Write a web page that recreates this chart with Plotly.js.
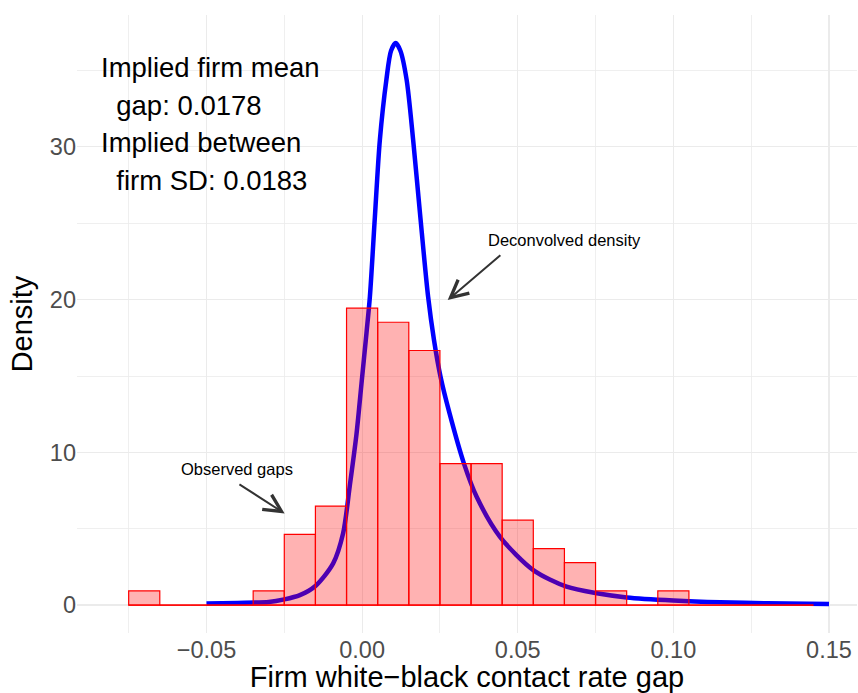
<!DOCTYPE html>
<html>
<head>
<meta charset="utf-8">
<script src="https://cdn.plot.ly/plotly-3.0.1.min.js"></script>
<style>
  html, body { margin: 0; padding: 0; background: #ffffff; }
  #chart { width: 858px; height: 693px; }
</style>
</head>
<body>
<div id="chart"></div>
<script>
// Histogram of observed gaps (density scale), bins of width 0.01
const binCenters = [-0.07, -0.06, -0.05, -0.04, -0.03, -0.02, -0.01, 0.00, 0.01, 0.02, 0.03,
                    0.04, 0.05, 0.06, 0.07, 0.08, 0.09, 0.10, 0.11, 0.12, 0.13, 0.14];
const density    = [0.93, 0, 0, 0, 0.93, 4.63, 6.48, 19.44, 18.52, 16.67, 9.26,
                    9.26, 5.56, 3.70, 2.78, 0.93, 0, 0.93, 0, 0, 0, 0];
const binWidth = 0.01;

// Deconvolved density curve
const curveX = [-0.05, -0.04, -0.03, -0.025, -0.02, -0.015, -0.0093, -0.0061, -0.004, -0.0018,
                -0.0002, 0.0014, 0.0025, 0.0041, 0.0057, 0.0078, 0.0093, 0.0108, 0.0123, 0.0143,
                0.0164, 0.0186, 0.0212, 0.0231, 0.0252, 0.0281, 0.0327, 0.0368, 0.0443, 0.055,
                0.0657, 0.0754, 0.085, 0.10, 0.115, 0.13, 0.15];
const curveY = [0.11, 0.14, 0.2, 0.37, 0.65, 1.25, 2.73, 4.7, 7.75, 11.2,
                14.5, 17.8, 20.2, 25.4, 30.45, 34.4, 36.3, 36.8, 36.3, 34.4,
                30.45, 25.65, 20.2, 17.35, 14.95, 12.55, 9.28, 7.09, 4.47, 2.29,
                1.2, 0.77, 0.5, 0.3, 0.18, 0.12, 0.07];

// Axis ticks
const xTickVals = [-0.05, 0.00, 0.05, 0.10, 0.15];
const xTickText = ['\u22120.05', '0.00', '0.05', '0.10', '0.15'];
const xMinorVals = [-0.075, -0.025, 0.025, 0.075, 0.125];
const yTickVals = [0, 10, 20, 30];
const yTickText = ['0', '10', '20', '30'];
const yMinorVals = [5, 15, 25, 35];

// Text
const statLines = ['Implied firm mean', '\u00a0\u00a0gap: 0.0178', 'Implied between', '\u00a0\u00a0firm SD: 0.0183'];
const xTitle = 'Firm white\u2212black contact rate gap';
const yTitle = 'Density';

const FONT = 'Liberation Sans, Arial, Helvetica, sans-serif';
const xRange = [-0.0916, 0.159];
const yRange = [-1.83, 38.64];

const traces = [
  {
    type: 'scatter', mode: 'lines', x: curveX, y: curveY,
    line: { color: 'rgb(0,0,255)', width: 4.5, shape: 'spline', smoothing: 0.8 },
    xaxis: 'x', yaxis: 'y', hoverinfo: 'skip', showlegend: false
  },
  {
    type: 'bar', x: binCenters, y: density, width: binWidth,
    marker: { color: 'rgba(255,0,0,0.3)', line: { color: 'rgb(255,0,0)', width: 1.2 } },
    xaxis: 'x2', yaxis: 'y2', hoverinfo: 'skip', showlegend: false
  },
  {
    type: 'scatter', mode: 'lines',
    x: [binCenters[0] - binWidth / 2, binCenters[binCenters.length - 1] + binWidth / 2],
    y: [0, 0],
    line: { color: 'rgb(255,0,0)', width: 1.2 },
    xaxis: 'x2', yaxis: 'y2', hoverinfo: 'skip', showlegend: false
  }
];

const gridColor = '#EBEBEB';
const annotations = [];
const statX = [-0.0845, -0.0845, -0.0845, -0.0845];
const statY = [35.23, 32.74, 30.26, 27.77];
statLines.forEach((t, i) => {
  annotations.push({
    xref: 'x', yref: 'y', x: statX[i], y: statY[i], text: t, showarrow: false,
    xanchor: 'left', yanchor: 'middle', font: { family: FONT, size: 27.5, color: '#000000' }
  });
});
annotations.push({
  xref: 'x', yref: 'y', x: 0.0649, y: 23.9, text: 'Deconvolved density', showarrow: false,
  xanchor: 'center', yanchor: 'middle', font: { family: FONT, size: 16.5, color: '#000000' }
});
annotations.push({
  xref: 'x', yref: 'y', x: -0.0401, y: 8.9, text: 'Observed gaps', showarrow: false,
  xanchor: 'center', yanchor: 'middle', font: { family: FONT, size: 16.5, color: '#000000' }
});
annotations.push({
  xref: 'x', yref: 'y', x: 0.0275, y: 19.97, axref: 'x', ayref: 'y', ax: 0.0449, ay: 22.99,
  text: '', showarrow: true, arrowhead: 5, arrowsize: 1.7, arrowwidth: 2, arrowcolor: '#333333',
  standoff: 0, startstandoff: 0, font: { size: 1 }
});
annotations.push({
  xref: 'x', yref: 'y', x: -0.0249, y: 6.0, axref: 'x', ayref: 'y', ax: -0.0399, ay: 7.97,
  text: '', showarrow: true, arrowhead: 5, arrowsize: 1.7, arrowwidth: 2, arrowcolor: '#333333',
  standoff: 0, startstandoff: 0, font: { size: 1 }
});

const layout = {
  width: 858, height: 693,
  margin: { l: 77, r: 1, t: 15, b: 60, pad: 0 },
  paper_bgcolor: '#ffffff', plot_bgcolor: '#ffffff',
  showlegend: false,
  font: { family: FONT },
  xaxis: {
    range: xRange, tickmode: 'array', tickvals: xTickVals, ticktext: xTickText,
    showgrid: true, gridcolor: gridColor, gridwidth: 1.1, zeroline: false, showline: false,
    ticks: '', tickfont: { family: FONT, size: 23.5, color: '#4D4D4D' },
    minor: { tickmode: 'array', tickvals: xMinorVals, showgrid: true, gridcolor: gridColor, gridwidth: 0.8, ticks: '' },
    title: { text: xTitle, font: { family: FONT, size: 29, color: '#000000' }, standoff: 8 },
    fixedrange: true
  },
  yaxis: {
    range: yRange, tickmode: 'array', tickvals: yTickVals, ticktext: yTickText,
    showgrid: true, gridcolor: gridColor, gridwidth: 1.1, zeroline: false, showline: false,
    ticks: '', tickfont: { family: FONT, size: 23.5, color: '#4D4D4D' },
    minor: { tickmode: 'array', tickvals: yMinorVals, showgrid: true, gridcolor: gridColor, gridwidth: 0.8, ticks: '' },
    title: { text: yTitle, font: { family: FONT, size: 29, color: '#000000' }, standoff: 8 },
    fixedrange: true
  },
  xaxis2: { overlaying: 'x', range: xRange, visible: false, fixedrange: true },
  yaxis2: { overlaying: 'y', range: yRange, visible: false, fixedrange: true, anchor: 'x2' },
  annotations: annotations
};

Plotly.newPlot('chart', traces, layout, { displayModeBar: false, staticPlot: true });
</script>
</body>
</html>
